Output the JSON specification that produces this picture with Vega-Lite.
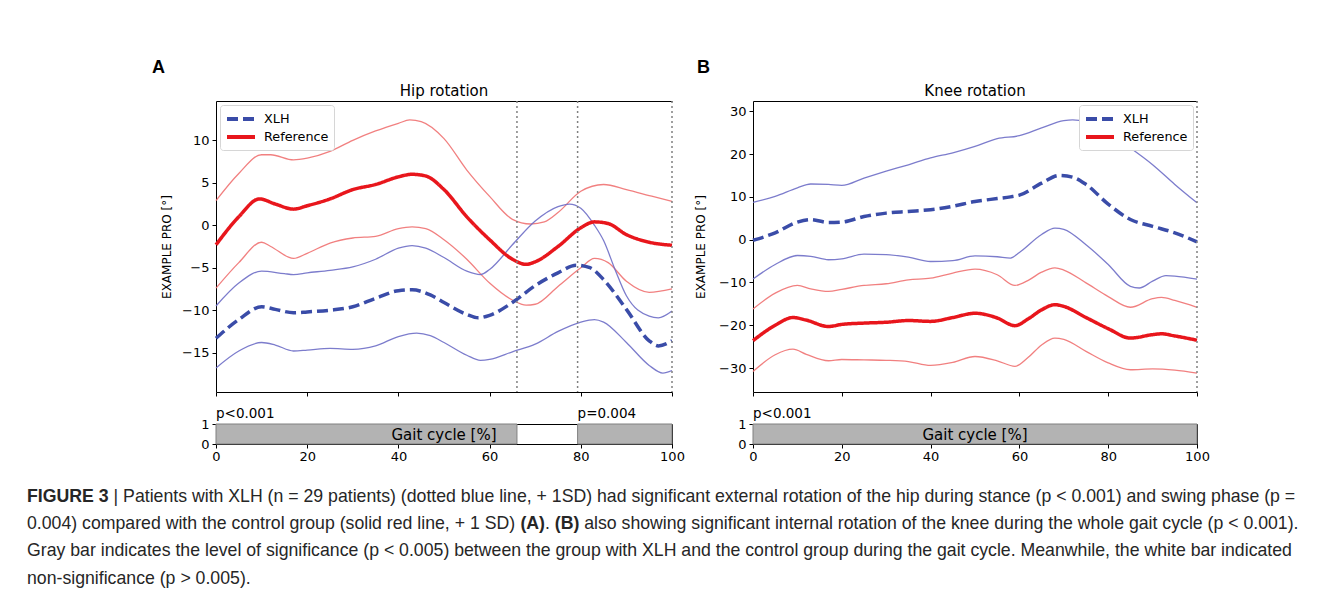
{
  "$schema": "https://vega.github.io/schema/vega-lite/v6.json",
  "padding": {"left": 27, "top": 59, "right": 0, "bottom": 0},
  "background": "white",
  "config": {
    "font": "DejaVu Sans",
    "view": {"stroke": null},
    "axis": {"grid": false, "labelFont": "DejaVu Sans", "labelFontSize": 13, "labelColor": "black", "labelFlush": false, "tickColor": "black", "domainColor": "black", "tickSize": 4, "tickWidth": 1, "domainWidth": 1, "labelPadding": 3, "titleFont": "DejaVu Sans", "titleFontSize": 12, "titleFontWeight": "normal", "titleColor": "black"},
    "legend": {"labelFont": "DejaVu Sans", "labelFontSize": 12.8, "labelColor": "black", "padding": 5, "strokeColor": "#d6d6d6", "fillColor": "white", "cornerRadius": 3, "symbolType": "M-1,0H3", "symbolStrokeWidth": 4, "symbolSize": 196, "rowPadding": 1, "offset": 4, "labelOffset": 21},
    "text": {"font": "DejaVu Sans", "color": "black"}
  },
  "datasets": {
    "curves": [
      {"panel": "A", "group": "Reference", "stat": "mean", "x": [0,5,9.5,13,17,20,25,30,35,40,43,46,50,55,60,65,68,70,75,80,83,86,90,95,100], "v": [-2.3,1.0,3.1,2.5,1.9,2.3,3.1,4.2,4.8,5.7,6.0,5.8,4.2,1.0,-1.7,-4.0,-4.6,-4.3,-2.5,-0.3,0.4,0.2,-1.1,-2.0,-2.35]},
      {"panel": "A", "group": "Reference", "stat": "upper", "x": [0,5,10,12,17,20,25,30,35,40,42.5,45,50,55,60,65,69,72,75,80,85,90,95,100], "v": [2.9,6.1,8.3,8.3,7.7,7.9,8.7,10.0,11.1,12.0,12.4,12.2,10.2,6.5,3.4,0.7,0.15,0.4,1.5,4.0,4.8,4.2,3.5,2.8]},
      {"panel": "A", "group": "Reference", "stat": "lower", "x": [0,5,10,12,17,20,25,30,35,40,43,46,50,55,60,65,68,70,75,80,83,86,90,95,100], "v": [-7.4,-4.4,-2.0,-2.5,-3.9,-3.3,-2.1,-1.5,-1.3,-0.4,-0.2,-0.4,-1.7,-4.0,-6.8,-8.8,-9.4,-9.3,-7.2,-5.0,-3.9,-4.4,-6.6,-7.9,-7.5]},
      {"panel": "A", "group": "XLH", "stat": "mean", "x": [0,5,10,13,17,20,25,30,35,40,43,47,50,55,57.5,60,65,70,75,79,82,85,90,95,97,100], "v": [-13.3,-11.1,-9.6,-9.9,-10.3,-10.2,-10.0,-9.6,-8.6,-7.7,-7.6,-8.2,-9.1,-10.5,-10.9,-10.6,-9.1,-7.1,-5.6,-4.7,-5.0,-6.4,-9.9,-13.6,-14.2,-13.6]},
      {"panel": "A", "group": "XLH", "stat": "upper", "x": [0,5,10,15,17,20,25,30,35,40,43,46,50,55,58,60,65,70,75,77.5,80,83,85,87.5,90,95,97,100], "v": [-9.5,-6.8,-5.4,-5.7,-5.8,-5.6,-5.3,-4.9,-4.0,-2.7,-2.4,-2.7,-3.8,-5.4,-5.8,-5.2,-2.3,0.5,2.2,2.5,2.0,0.0,-1.8,-5.2,-8.3,-10.7,-10.9,-10.1]},
      {"panel": "A", "group": "XLH", "stat": "lower", "x": [0,5,10,13,17,20,25,30,35,40,44,47,50,55,58,60,65,70,75,80,83,85,90,95,98,100], "v": [-16.8,-14.8,-13.8,-14.1,-14.8,-14.7,-14.5,-14.6,-14.2,-13.1,-12.7,-13.0,-13.8,-15.3,-15.9,-15.8,-14.9,-14.0,-12.5,-11.4,-11.1,-11.4,-13.8,-16.5,-17.4,-17.1]},
      {"panel": "B", "group": "XLH", "stat": "mean", "x": [0,5,10,13,17,20,25,30,35,40,45,50,55,58,60,65,69,72,75,80,85,90,95,100], "v": [-0.15,1.6,4.1,4.7,4.0,4.1,5.4,6.2,6.6,7.0,7.8,8.9,9.6,10.0,10.4,13.2,15.0,14.6,12.9,8.3,4.7,3.1,1.6,-0.5]},
      {"panel": "B", "group": "XLH", "stat": "upper", "x": [0,5,10,13,17,20,25,30,35,40,45,50,55,60,65,70,72,75,80,85,90,95,100], "v": [8.7,10.1,12.1,13.0,12.9,12.7,14.4,16.0,17.5,19.1,20.3,21.8,23.6,24.3,26.1,27.8,28.0,27.5,24.9,21.4,17.5,12.9,8.6]},
      {"panel": "B", "group": "XLH", "stat": "lower", "x": [0,5,10,13,17,20,25,30,35,40,45,50,55,58,60,65,68,70,75,80,85,87,90,93,95,100], "v": [-9.2,-5.8,-3.7,-3.9,-4.7,-4.5,-3.4,-3.5,-4.1,-5.1,-4.9,-3.8,-4.0,-4.3,-3.0,1.2,2.7,2.4,-1.2,-5.8,-10.9,-11.3,-9.7,-8.4,-8.5,-9.2]},
      {"panel": "B", "group": "Reference", "stat": "upper", "x": [0,5,10,13,17,20,25,30,35,40,45,50,55,59,62,65,68,70,75,80,85,90,92,95,100], "v": [-16.2,-12.5,-10.7,-11.5,-12.1,-11.6,-10.7,-10.3,-9.4,-9.0,-7.8,-6.9,-8.2,-10.7,-9.5,-7.6,-6.6,-7.1,-10.1,-13.3,-15.8,-13.8,-13.5,-14.2,-15.8]},
      {"panel": "B", "group": "Reference", "stat": "mean", "x": [0,5,9,12,17,20,25,30,35,40,45,50,55,59,62,65,68,70,75,80,85,90,92,95,100], "v": [-23.6,-20.0,-18.2,-18.8,-20.3,-19.8,-19.5,-19.3,-18.9,-19.1,-18.2,-17.2,-18.3,-20.1,-18.5,-16.4,-15.2,-15.6,-18.2,-20.8,-23.0,-22.2,-22.0,-22.5,-23.5]},
      {"panel": "B", "group": "Reference", "stat": "lower", "x": [0,5,9,12,17,20,25,30,35,40,45,50,55,59,62,65,68,70,75,80,85,90,95,100], "v": [-30.8,-26.9,-25.6,-26.8,-28.3,-28.0,-28.1,-28.2,-28.5,-29.4,-28.7,-27.3,-28.3,-29.6,-27.5,-24.6,-23.0,-23.3,-26.1,-28.8,-30.4,-30.2,-30.5,-31.2]}
    ],
    "vlines": [
      {"panel": "A", "x": 66},
      {"panel": "A", "x": 79.3},
      {"panel": "A", "x": 100},
      {"panel": "B", "x": 100}
    ],
    "heads": [
      {"panel": "A", "letter": "A", "title": "Hip rotation"},
      {"panel": "B", "letter": "B", "title": "Knee rotation"}
    ],
    "sig": [
      {"panel": "A", "start": 0, "end": 66},
      {"panel": "A", "start": 79.3, "end": 100},
      {"panel": "B", "start": 0, "end": 100}
    ],
    "plabels": [
      {"panel": "A", "x": 0, "label": "p<0.001"},
      {"panel": "A", "x": 79.3, "label": "p=0.004"},
      {"panel": "B", "x": 0, "label": "p<0.001"}
    ],
    "caption": [
      {"line": 1, "seg": "fig", "text": "FIGURE 3"},
      {"line": 1, "seg": "afterfig", "text": "| Patients with XLH (n = 29 patients) (dotted blue line, + 1SD) had significant external rotation of the hip during stance (p < 0.001) and swing phase (p ="},
      {"line": 2, "seg": "plain", "text": "0.004) compared with the control group (solid red line, + 1 SD)"},
      {"line": 2, "seg": "A", "text": "(A)"},
      {"line": 2, "seg": "dot", "text": "."},
      {"line": 2, "seg": "B", "text": "(B)"},
      {"line": 2, "seg": "rest2", "text": "also showing significant internal rotation of the knee during the whole gait cycle (p < 0.001)."},
      {"line": 3, "seg": "plain", "text": "Gray bar indicates the level of significance (p < 0.005) between the group with XLH and the control group during the gait cycle. Meanwhile, the white bar indicated"},
      {"line": 4, "seg": "plain", "text": "non-significance (p > 0.005)."}
    ]
  },
  "concat": [
    {
      "width": 456, "height": 291,
      "resolve": {"axis": {"x": "independent"}},
      "layer": [
        {
          "data": {"name": "curves"},
          "transform": [{"filter": "datum.panel === 'A' && datum.stat !== 'mean'"}, {"flatten": ["x", "v"]}],
          "mark": {"type": "line", "interpolate": "monotone", "strokeWidth": 1.3, "opacity": 0.9},
          "encoding": {
            "x": {"field": "x", "type": "quantitative", "scale": {"domain": [0, 100], "nice": false, "zero": false}, "axis": {"values": [0, 20, 40, 60, 80, 100], "labels": false, "title": null}},
            "y": {"field": "v", "type": "quantitative", "scale": {"domain": [-19.63, 14.63], "nice": false, "zero": false}, "axis": {"values": [-15, -10, -5, 0, 5, 10], "title": "EXAMPLE PRO [°]", "titlePadding": 8}},
            "detail": [{"field": "group"}, {"field": "stat"}],
            "stroke": {"condition": {"test": "datum.group === 'XLH'", "value": "#6e6ec6"}, "value": "#f07272"}
          }
        },
        {
          "data": {"name": "curves"},
          "transform": [{"filter": "datum.panel === 'A' && datum.stat === 'mean'"}, {"flatten": ["x", "v"]}],
          "mark": {"type": "line", "interpolate": "monotone", "strokeWidth": 3.5, "strokeCap": "butt"},
          "encoding": {
            "x": {"field": "x", "type": "quantitative", "scale": {"domain": [0, 100], "nice": false, "zero": false}, "axis": null},
            "y": {"field": "v", "type": "quantitative", "scale": {"domain": [-19.63, 14.63], "nice": false, "zero": false}, "axis": {"values": [-15, -10, -5, 0, 5, 10], "title": "EXAMPLE PRO [°]", "titlePadding": 8}},
            "color": {"field": "group", "type": "nominal", "scale": {"domain": ["XLH", "Reference"], "range": ["#3a4ca8", "#e8161c"]}, "legend": {"orient": "top-left", "title": null}},
            "strokeDash": {"field": "group", "type": "nominal", "scale": {"domain": ["XLH", "Reference"], "range": [[11, 5], [1, 0]]}, "legend": {"orient": "top-left", "title": null}}
          }
        },
        {
          "data": {"name": "vlines"},
          "transform": [{"filter": "datum.panel === 'A'"}],
          "mark": {"type": "rule", "strokeDash": [2, 3], "color": "#808080", "strokeWidth": 1.5},
          "encoding": {
            "x": {"field": "x", "type": "quantitative", "scale": {"domain": [0, 100], "nice": false, "zero": false}, "axis": {"orient": "top", "labels": false, "ticks": false, "title": null, "maxExtent": 0, "minExtent": 0}}
          }
        },
        {
          "data": {"name": "heads"},
          "transform": [{"filter": "datum.panel === 'A'"}],
          "layer": [
            {
              "mark": {"type": "text", "align": "left", "baseline": "alphabetic", "dx": -64, "dy": -28, "font": "Liberation Sans", "fontSize": 18, "fontWeight": "bold"},
              "encoding": {
                "x": {"datum": 0, "type": "quantitative", "scale": {"domain": [0, 100], "nice": false, "zero": false}, "axis": null},
                "y": {"datum": 14.63, "type": "quantitative", "scale": {"domain": [-19.63, 14.63], "nice": false, "zero": false}, "axis": {"values": [-15, -10, -5, 0, 5, 10], "title": "EXAMPLE PRO [°]", "titlePadding": 8}},
                "text": {"field": "letter"}
              }
            },
            {
              "mark": {"type": "text", "align": "center", "baseline": "alphabetic", "dy": -5, "fontSize": 15},
              "encoding": {
                "x": {"datum": 50, "type": "quantitative", "scale": {"domain": [0, 100], "nice": false, "zero": false}, "axis": null},
                "y": {"datum": 14.63, "type": "quantitative", "scale": {"domain": [-19.63, 14.63], "nice": false, "zero": false}, "axis": {"values": [-15, -10, -5, 0, 5, 10], "title": "EXAMPLE PRO [°]", "titlePadding": 8}},
                "text": {"field": "title"}
              }
            }
          ]
        }
      ]
    },
    {
      "width": 444, "height": 291,
      "resolve": {"axis": {"x": "independent"}},
      "layer": [
        {
          "data": {"name": "curves"},
          "transform": [{"filter": "datum.panel === 'B' && datum.stat !== 'mean'"}, {"flatten": ["x", "v"]}],
          "mark": {"type": "line", "interpolate": "monotone", "strokeWidth": 1.3, "opacity": 0.9},
          "encoding": {
            "x": {"field": "x", "type": "quantitative", "scale": {"domain": [0, 100], "nice": false, "zero": false}, "axis": {"values": [0, 20, 40, 60, 80, 100], "labels": false, "title": null}},
            "y": {"field": "v", "type": "quantitative", "scale": {"domain": [-35.6, 32.4], "nice": false, "zero": false}, "axis": {"values": [-30, -20, -10, 0, 10, 20, 30], "title": "EXAMPLE PRO [°]", "titlePadding": 11}},
            "detail": [{"field": "group"}, {"field": "stat"}],
            "stroke": {"condition": {"test": "datum.group === 'XLH'", "value": "#6e6ec6"}, "value": "#f07272"}
          }
        },
        {
          "data": {"name": "curves"},
          "transform": [{"filter": "datum.panel === 'B' && datum.stat === 'mean'"}, {"flatten": ["x", "v"]}],
          "mark": {"type": "line", "interpolate": "monotone", "strokeWidth": 3.5, "strokeCap": "butt"},
          "encoding": {
            "x": {"field": "x", "type": "quantitative", "scale": {"domain": [0, 100], "nice": false, "zero": false}, "axis": null},
            "y": {"field": "v", "type": "quantitative", "scale": {"domain": [-35.6, 32.4], "nice": false, "zero": false}, "axis": {"values": [-30, -20, -10, 0, 10, 20, 30], "title": "EXAMPLE PRO [°]", "titlePadding": 11}},
            "color": {"field": "group", "type": "nominal", "scale": {"domain": ["XLH", "Reference"], "range": ["#3a4ca8", "#e8161c"]}, "legend": {"orient": "top-right", "title": null}},
            "strokeDash": {"field": "group", "type": "nominal", "scale": {"domain": ["XLH", "Reference"], "range": [[11, 5], [1, 0]]}, "legend": {"orient": "top-right", "title": null}}
          }
        },
        {
          "data": {"name": "vlines"},
          "transform": [{"filter": "datum.panel === 'B'"}],
          "mark": {"type": "rule", "strokeDash": [2, 3], "color": "#808080", "strokeWidth": 1.5},
          "encoding": {
            "x": {"field": "x", "type": "quantitative", "scale": {"domain": [0, 100], "nice": false, "zero": false}, "axis": {"orient": "top", "labels": false, "ticks": false, "title": null, "maxExtent": 0, "minExtent": 0}}
          }
        },
        {
          "data": {"name": "heads"},
          "transform": [{"filter": "datum.panel === 'B'"}],
          "layer": [
            {
              "mark": {"type": "text", "align": "left", "baseline": "alphabetic", "dx": -56, "dy": -28, "font": "Liberation Sans", "fontSize": 18, "fontWeight": "bold"},
              "encoding": {
                "x": {"datum": 0, "type": "quantitative", "scale": {"domain": [0, 100], "nice": false, "zero": false}, "axis": null},
                "y": {"datum": 32.4, "type": "quantitative", "scale": {"domain": [-35.6, 32.4], "nice": false, "zero": false}, "axis": {"values": [-30, -20, -10, 0, 10, 20, 30], "title": "EXAMPLE PRO [°]", "titlePadding": 11}},
                "text": {"field": "letter"}
              }
            },
            {
              "mark": {"type": "text", "align": "center", "baseline": "alphabetic", "dy": -5, "fontSize": 15},
              "encoding": {
                "x": {"datum": 50, "type": "quantitative", "scale": {"domain": [0, 100], "nice": false, "zero": false}, "axis": null},
                "y": {"datum": 32.4, "type": "quantitative", "scale": {"domain": [-35.6, 32.4], "nice": false, "zero": false}, "axis": {"values": [-30, -20, -10, 0, 10, 20, 30], "title": "EXAMPLE PRO [°]", "titlePadding": 11}},
                "text": {"field": "title"}
              }
            }
          ]
        }
      ]
    },
    {
      "width": 456, "height": 20,
      "view": {"stroke": "black", "strokeWidth": 1},
      "layer": [
        {
          "data": {"name": "sig"},
          "transform": [{"filter": "datum.panel === 'A'"}],
          "mark": {"type": "rect", "fill": "#b3b3b3", "stroke": "#808080", "strokeWidth": 1},
          "encoding": {
            "x": {"field": "start", "type": "quantitative", "scale": {"domain": [0, 100], "nice": false, "zero": false}, "axis": {"values": [0, 20, 40, 60, 80, 100], "title": null, "labelPadding": 2}},
            "x2": {"field": "end"},
            "y": {"datum": 0, "type": "quantitative", "scale": {"domain": [0, 1], "nice": false}, "axis": {"values": [0, 1], "format": "d", "title": null}},
            "y2": {"datum": 1}
          }
        },
        {
          "data": {"name": "plabels"},
          "transform": [{"filter": "datum.panel === 'A'"}],
          "mark": {"type": "text", "align": "left", "baseline": "alphabetic", "dy": -6, "fontSize": 13.5},
          "encoding": {
            "x": {"field": "x", "type": "quantitative", "scale": {"domain": [0, 100], "nice": false, "zero": false}, "axis": {"values": [0, 20, 40, 60, 80, 100], "title": null, "labelPadding": 2}},
            "y": {"datum": 1, "type": "quantitative", "scale": {"domain": [0, 1], "nice": false}, "axis": {"values": [0, 1], "format": "d", "title": null}},
            "text": {"field": "label"}
          }
        },
        {
          "data": {"values": [{"t": "Gait cycle [%]"}]},
          "mark": {"type": "text", "fontSize": 15, "baseline": "middle", "dy": 1},
          "encoding": {
            "x": {"datum": 50, "type": "quantitative", "scale": {"domain": [0, 100], "nice": false, "zero": false}, "axis": {"values": [0, 20, 40, 60, 80, 100], "title": null, "labelPadding": 2}},
            "y": {"datum": 0.5, "type": "quantitative", "scale": {"domain": [0, 1], "nice": false}, "axis": {"values": [0, 1], "format": "d", "title": null}},
            "text": {"field": "t"}
          }
        }
      ]
    },
    {
      "width": 444, "height": 20,
      "view": {"stroke": "black", "strokeWidth": 1},
      "layer": [
        {
          "data": {"name": "sig"},
          "transform": [{"filter": "datum.panel === 'B'"}],
          "mark": {"type": "rect", "fill": "#b3b3b3", "stroke": "#808080", "strokeWidth": 1},
          "encoding": {
            "x": {"field": "start", "type": "quantitative", "scale": {"domain": [0, 100], "nice": false, "zero": false}, "axis": {"values": [0, 20, 40, 60, 80, 100], "title": null, "labelPadding": 2}},
            "x2": {"field": "end"},
            "y": {"datum": 0, "type": "quantitative", "scale": {"domain": [0, 1], "nice": false}, "axis": {"values": [0, 1], "format": "d", "title": null}},
            "y2": {"datum": 1}
          }
        },
        {
          "data": {"name": "plabels"},
          "transform": [{"filter": "datum.panel === 'B'"}],
          "mark": {"type": "text", "align": "left", "baseline": "alphabetic", "dy": -6, "fontSize": 13.5},
          "encoding": {
            "x": {"field": "x", "type": "quantitative", "scale": {"domain": [0, 100], "nice": false, "zero": false}, "axis": {"values": [0, 20, 40, 60, 80, 100], "title": null, "labelPadding": 2}},
            "y": {"datum": 1, "type": "quantitative", "scale": {"domain": [0, 1], "nice": false}, "axis": {"values": [0, 1], "format": "d", "title": null}},
            "text": {"field": "label"}
          }
        },
        {
          "data": {"values": [{"t": "Gait cycle [%]"}]},
          "mark": {"type": "text", "fontSize": 15, "baseline": "middle", "dy": 1},
          "encoding": {
            "x": {"datum": 50, "type": "quantitative", "scale": {"domain": [0, 100], "nice": false, "zero": false}, "axis": {"values": [0, 20, 40, 60, 80, 100], "title": null, "labelPadding": 2}},
            "y": {"datum": 0.5, "type": "quantitative", "scale": {"domain": [0, 1], "nice": false}, "axis": {"values": [0, 1], "format": "d", "title": null}},
            "text": {"field": "t"}
          }
        }
      ]
    },
    {
      "width": 10, "height": 81.5,
      "data": {"name": "caption"},
      "encoding": {
        "y": {"field": "line", "type": "ordinal", "axis": null, "scale": {"type": "point", "padding": 0}},
        "x": {"value": 0},
        "text": {"field": "text"}
      },
      "layer": [
        {"transform": [{"filter": "datum.seg === 'plain'"}], "mark": {"type": "text", "align": "left", "baseline": "middle", "font": "Liberation Sans", "fontSize": 17.7, "color": "#262626", "dx": -189, "dy": 21}},
        {"transform": [{"filter": "datum.seg === 'fig'"}], "mark": {"type": "text", "align": "left", "baseline": "middle", "font": "Liberation Sans", "fontSize": 17.7, "fontWeight": "bold", "color": "#262626", "dx": -189, "dy": 21}},
        {"transform": [{"filter": "datum.seg === 'afterfig'"}], "mark": {"type": "text", "align": "left", "baseline": "middle", "font": "Liberation Sans", "fontSize": 17.7, "color": "#262626", "dx": -102.4, "dy": 21}},
        {"transform": [{"filter": "datum.seg === 'A'"}], "mark": {"type": "text", "align": "left", "baseline": "middle", "font": "Liberation Sans", "fontSize": 17.7, "fontWeight": "bold", "color": "#262626", "dx": 304.4, "dy": 21}},
        {"transform": [{"filter": "datum.seg === 'dot'"}], "mark": {"type": "text", "align": "left", "baseline": "middle", "font": "Liberation Sans", "fontSize": 17.7, "color": "#262626", "dx": 328.9, "dy": 21}},
        {"transform": [{"filter": "datum.seg === 'B'"}], "mark": {"type": "text", "align": "left", "baseline": "middle", "font": "Liberation Sans", "fontSize": 17.7, "fontWeight": "bold", "color": "#262626", "dx": 338.8, "dy": 21}},
        {"transform": [{"filter": "datum.seg === 'rest2'"}], "mark": {"type": "text", "align": "left", "baseline": "middle", "font": "Liberation Sans", "fontSize": 17.7, "color": "#262626", "dx": 368.2, "dy": 21}}
      ]
    }
  ],
  "columns": 2,
  "spacing": {"row": 32, "column": 81},
  "bounds": "flush",
  "resolve": {"scale": {"color": "independent", "strokeDash": "independent"}, "legend": {"color": "independent", "strokeDash": "independent"}}
}
